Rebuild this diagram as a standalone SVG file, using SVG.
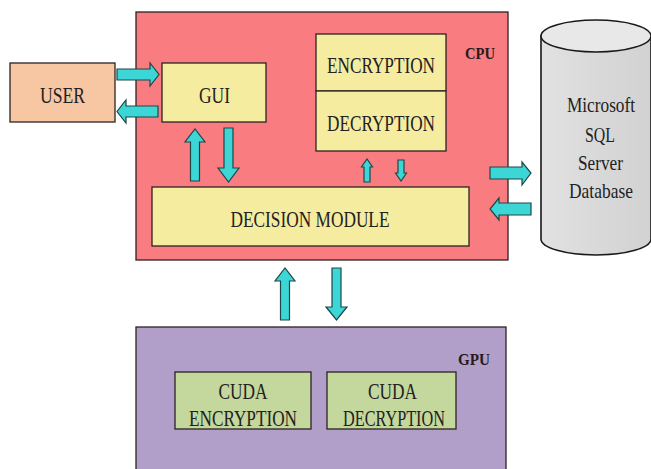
<svg xmlns="http://www.w3.org/2000/svg" width="651" height="469" viewBox="0 0 651 469">
<defs>
<linearGradient id="cylBody" x1="0" y1="0" x2="1" y2="0">
<stop offset="0" stop-color="#E2E2E2"/>
<stop offset="0.5" stop-color="#D9D9D9"/>
<stop offset="1" stop-color="#D2D2D2"/>
</linearGradient>
</defs>
<style>
.box{stroke:#2b2222;stroke-width:1.3}
.cpu{fill:#F87C80}
.gpu{fill:#B19FC9}
.yel{fill:#F6EC9F}
.usr{fill:#F7C6A3}
.cuda{fill:#C4D79C}
.lbl{font-family:"Liberation Serif","Times New Roman",serif;font-size:23px;fill:#222;text-anchor:middle}
.db{font-family:"Liberation Serif","Times New Roman",serif;font-size:21px;fill:#222;text-anchor:middle}
.hdr{font-family:"Liberation Serif","Times New Roman",serif;font-size:17px;font-weight:bold;fill:#2a1a1a;text-anchor:middle}
.arr{fill:#3CD6D6;stroke:#1E4646;stroke-width:1.2;stroke-linejoin:miter}
</style>

<g id="cpu">
<rect class="box cpu" x="136" y="12" width="372" height="248"/>
<text class="hdr" x="480" y="59" textLength="30" lengthAdjust="spacingAndGlyphs">CPU</text>
</g>

<g id="gpu">
<rect class="box gpu" x="136" y="327" width="370" height="150"/>
<text class="hdr" x="474" y="365" textLength="32" lengthAdjust="spacingAndGlyphs">GPU</text>
</g>

<g id="user">
<rect class="box usr" x="10" y="63" width="105" height="59"/>
<text class="lbl" x="62.5" y="103" textLength="45" lengthAdjust="spacingAndGlyphs">USER</text>
</g>

<g id="gui">
<rect class="box yel" x="162" y="63" width="104" height="59"/>
<text class="lbl" x="214.5" y="103" textLength="31" lengthAdjust="spacingAndGlyphs">GUI</text>
</g>

<g id="encryption">
<rect class="box yel" x="316" y="34" width="130" height="57"/>
<text class="lbl" x="381" y="73" textLength="108" lengthAdjust="spacingAndGlyphs">ENCRYPTION</text>
</g>

<g id="decryption">
<rect class="box yel" x="316" y="91" width="130" height="60"/>
<text class="lbl" x="381" y="131" textLength="108" lengthAdjust="spacingAndGlyphs">DECRYPTION</text>
</g>

<g id="decision">
<rect class="box yel" x="152" y="187" width="317" height="59"/>
<text class="lbl" x="310" y="227" textLength="159" lengthAdjust="spacingAndGlyphs">DECISION MODULE</text>
</g>

<g id="cuda-enc">
<rect class="box cuda" x="175" y="372" width="136" height="57"/>
<text class="lbl" x="243" y="399" textLength="49" lengthAdjust="spacingAndGlyphs">CUDA</text>
<text class="lbl" x="243" y="426" textLength="108" lengthAdjust="spacingAndGlyphs">ENCRYPTION</text>
</g>

<g id="cuda-dec">
<rect class="box cuda" x="327" y="372" width="129" height="57"/>
<text class="lbl" x="392.5" y="399" textLength="49" lengthAdjust="spacingAndGlyphs">CUDA</text>
<text class="lbl" x="394" y="426" textLength="102" lengthAdjust="spacingAndGlyphs">DECRYPTION</text>
</g>

<g id="database">
<path d="M541,36 V239 A55,16 0 0 0 651,239 V36 Z" fill="url(#cylBody)" stroke="#1a1a1a" stroke-width="1.6"/>
<ellipse cx="596" cy="36" rx="55" ry="16" fill="#E8E8E8" stroke="#1a1a1a" stroke-width="1.6"/>
<text class="db" x="601" y="112" textLength="68" lengthAdjust="spacingAndGlyphs">Microsoft</text>
<text class="db" x="600" y="142" textLength="30" lengthAdjust="spacingAndGlyphs">SQL</text>
<text class="db" x="600.5" y="170" textLength="45" lengthAdjust="spacingAndGlyphs">Server</text>
<text class="db" x="601" y="198" textLength="64" lengthAdjust="spacingAndGlyphs">Database</text>
</g>

<g id="connectors">
<path class="arr" d="M117,69 H150 V63 L159,74.5 L150,86 V80 H117 Z"/>
<path class="arr" d="M158,106 H126 V100 L117,111.5 L126,123 V117 H158 Z"/>
<path class="arr" d="M190.5,181 V142 H185 L195,129 L205,142 H199.5 V181 Z"/>
<path class="arr" d="M224,128 V168 H218 L228.5,182 L239,168 H233 V128 Z"/>
<path class="arr" d="M364,182 V167 H361.5 L367,159 L372.5,167 H370 V182 Z"/>
<path class="arr" d="M398,160 V173 H395.5 L401,181 L406.5,173 H404 V160 Z"/>
<path class="arr" d="M490,167 H522 V162 L531,173 L522,185 V179 H490 Z"/>
<path class="arr" d="M531,203 H499 V198 L490,209 L499,220 V215 H531 Z"/>
<path class="arr" d="M280.5,320 V281 H275 L285,268 L295,281 H289.5 V320 Z"/>
<path class="arr" d="M332,268 V307 H326 L336.5,320 L347,307 H341 V268 Z"/>
</g>
</svg>
